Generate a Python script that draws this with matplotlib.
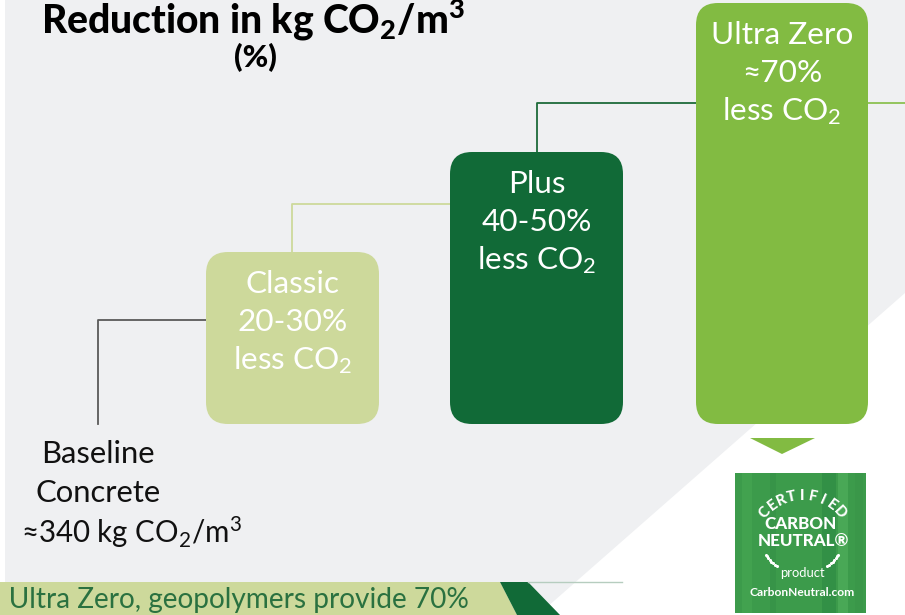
import numpy as np
import matplotlib
matplotlib.use("Agg")
import matplotlib.pyplot as plt
from matplotlib.patches import FancyBboxPatch, Polygon, Rectangle

plt.rcParams['font.family'] = ['Lato', 'DejaVu Sans']
plt.rcParams['mathtext.default'] = 'regular'

# --- data ---
tiers = ['Classic', 'Plus', 'Ultra Zero']
reductions = ['20-30%', '40-50%', '\u224870%']
tier_colors = ['#cdd99b', '#116a37', '#82bb42']
baseline_lines = ['Baseline', 'Concrete', '\u2248340 kg CO$_2$/m$^3$']
title = 'Reduction in kg CO$_2$/m$^3$'
subtitle = '(%)'
footer = 'n Ultra Zero, geopolymers provide 70%'

W, H = 905, 615
fig = plt.figure(figsize=(W / 100, H / 100), dpi=100)
ax = fig.add_axes([0, 0, 1, 1])
ax.set_xlim(0, W)
ax.set_ylim(H, 0)
ax.axis('off')

def px(v):
    return v * 0.72

# background
ax.add_patch(Polygon([(5, 0), (W, 0), (W, 293), (538, H), (5, H)],
                     closed=True, fc='#eff0f2', ec='none', zorder=0))

# boxes: (left, top, right, bottom)
boxes = [(206, 252, 379, 424), (450, 152, 623, 424), (696, 3, 868, 424)]
for (l, t, r, b), c, name, red in zip(boxes, tier_colors, tiers, reductions):
    ax.add_patch(FancyBboxPatch((l, t), r - l, b - t,
                                boxstyle='round,pad=0,rounding_size=22',
                                fc=c, ec='none', zorder=2))
    cx = (l + r) / 2
    for i, s in enumerate([name, red, 'less CO$_2$']):
        ax.text(cx, t + 32 + i * 38, s, ha='center', va='center',
                color='white', fontsize=px(31.5), zorder=3)

# connectors
ax.plot([98, 98, 206], [424, 320, 320], color='#5a5a5a', lw=1.3, zorder=1)
ax.plot([292, 292, 450], [252, 204, 204], color='#cdd99b', lw=1.3, zorder=1)
ax.plot([537, 537, 696], [152, 103, 103], color='#1d6b3a', lw=1.3, zorder=1)
ax.plot([868, W], [103, 103], color='#8cc152', lw=1.3, zorder=1)

# baseline label
for i, s in enumerate(baseline_lines):
    x = 98 if i < 2 else 131
    ax.text(x, 454 + i * 39, s, ha='center', va='center', color='#111111',
            fontsize=px(31 if i < 2 else 29.5))

# title
ax.text(253, 32, title, ha='center', va='baseline', fontsize=px(39),
        fontweight='black', color='black')
ax.text(255, 58, subtitle, ha='center', va='center', fontsize=px(31),
        fontweight='black', color='black')

# arrow triangle
ax.add_patch(Polygon([(750, 438), (815, 438), (782, 454)], closed=True,
                     fc='#82bb42', ec='none'))

# logo
ax.add_patch(Rectangle((735, 473), 131, 140, fc='#3c9b4b', ec='none', zorder=2))
for sx, sw, sc in [(742, 10, '#45a552'), (770, 6, '#359247'), (822, 14, '#2f8c44'),
                   (838, 10, '#4fae5c'), (855, 8, '#3a9649')]:
    ax.add_patch(Rectangle((sx, 473), sw, 140, fc=sc, ec='none', alpha=0.7, zorder=2))
cx0, cy0, r0 = 802, 546, 50
word = 'CERTIFIED'
angs = np.linspace(138, 42, len(word))
for ch, a in zip(word, angs):
    ar = np.deg2rad(a)
    ax.text(cx0 + r0 * np.cos(ar), cy0 - r0 * np.sin(ar), ch, ha='center', va='center',
            rotation=a - 90, color='white', fontsize=px(15), fontweight='black',
            zorder=3)
ax.text(800, 524, 'CARBON', ha='center', va='center', color='white',
        fontsize=px(17), fontweight='black', zorder=3)
ax.text(803, 541, 'NEUTRAL\u00ae', ha='center', va='center', color='white',
        fontsize=px(17), fontweight='black', zorder=3)
for a0, a1 in [(125, 146), (34, 55)]:
    aa = np.deg2rad(np.linspace(a0, a1, 8))
    ax.scatter(802 + 44 * np.cos(aa), 530 + 44 * np.sin(aa), s=1.5, c='white', zorder=3)
ax.text(802, 573, 'product', ha='center', va='center', color='white',
        fontsize=px(13), zorder=3)
ax.text(802, 593, 'CarbonNeutral.com', ha='center', va='center', color='white',
        fontsize=px(12), fontweight='bold', zorder=3)

# footer banner
ax.add_patch(Polygon([(0, 582), (500, 582), (517, H), (0, H)], closed=True,
                     fc='#cdd99b', ec='none', zorder=2))
ax.add_patch(Polygon([(500, 582), (528, 582), (560, H), (517, H)], closed=True,
                     fc='#116a37', ec='none', zorder=2))
ax.plot([528, 622], [582, 582], color='#b6cdbf', lw=1, zorder=2)
ax.text(-14, 600, footer, ha='left', va='center', color='#2a7140',
        fontsize=px(28), zorder=3)

fig.savefig('out.png', dpi=100, facecolor='white')
